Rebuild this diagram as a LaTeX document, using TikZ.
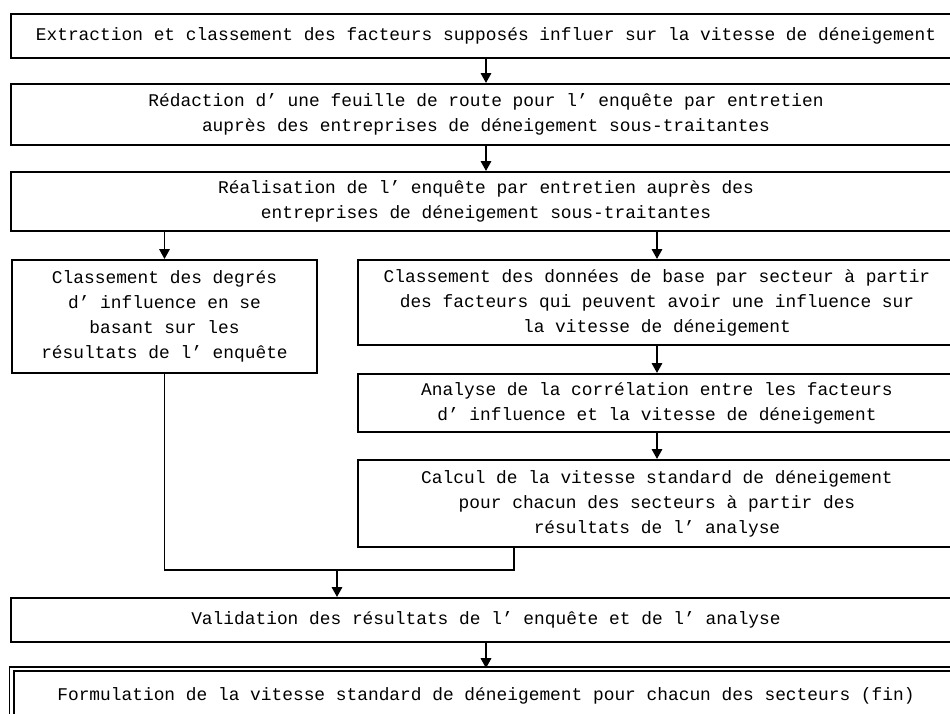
\documentclass[tikz,border=0pt]{standalone}
\usepackage{fontspec}
\setmainfont{Liberation Mono}
\usetikzlibrary{arrows.meta}

\begin{document}
\begin{tikzpicture}[x=0.025cm, y=-0.025cm,
  box/.style={draw, line width=1.5pt, fill=white, align=center,
              inner sep=0pt, font=\fontsize{12.7}{17.7}\selectfont},
  wide/.style={box, minimum width=23.75cm},
  side/.style={box, minimum width=14.95cm},
  last/.style={wide, double, line width=1.3pt, double distance=2pt,
               minimum width=23.7cm},
  flow/.style={-{Triangle[length=7pt, width=7.5pt]}, line width=1pt},
  merge/.style={line width=0.8pt},
]
\useasboundingbox (0,0) rectangle (950,713);

\node[wide, minimum height=1.1cm] (extr) at (486,36)
  {Extraction et classement des facteurs supposés influer sur la vitesse de déneigement};
\node[wide, minimum height=1.525cm] (redac) at (486,114.5)
  {Rédaction d’ une feuille de route pour l’ enquête par entretien\\
   auprès des entreprises de déneigement sous-traitantes};
\node[wide, minimum height=1.475cm] (enq) at (486,201.5)
  {Réalisation de l’ enquête par entretien auprès des\\
   entreprises de déneigement sous-traitantes};
\node[box, minimum width=7.625cm, minimum height=2.825cm] (degr) at (164.5,316.5)
  {Classement des degrés\\ d’ influence en se\\ basant sur les\\ résultats de l’ enquête};
\node[side, minimum height=2.125cm] (donn) at (657,302.5)
  {Classement des données de base par secteur à partir\\
   des facteurs qui peuvent avoir une influence sur\\ la vitesse de déneigement};
\node[side, minimum height=1.45cm] (corr) at (657,403)
  {Analyse de la corrélation entre les facteurs\\
   d’ influence et la vitesse de déneigement};
\node[side, minimum height=2.175cm] (calc) at (657,503.5)
  {Calcul de la vitesse standard de déneigement\\
   pour chacun des secteurs à partir des\\ résultats de l’ analyse};
\node[wide, minimum height=1.1cm] (valid) at (486,620)
  {Validation des résultats de l’ enquête et de l’ analyse};
\node[last, minimum height=1.35cm] (form) at (486,696)
  {Formulation de la vitesse standard de déneigement pour chacun des secteurs (fin)};

\coordinate (mleft) at (337,570);
\coordinate (mright) at (514,570);

\draw[flow] (extr) -- (redac);
\draw[flow] (redac) -- (enq);
\draw[flow] (enq.south -| degr) -- (degr);
\draw[flow] (enq.south -| donn) -- (donn);
\draw[flow] (donn) -- (corr);
\draw[flow] (corr) -- (calc);
\draw[merge] (degr) |- (mright) -- (mright |- calc.south);
\draw[flow] (mleft) -- (mleft |- valid.north);
\draw[flow] (valid) -- (form);
\end{tikzpicture}
\end{document}
